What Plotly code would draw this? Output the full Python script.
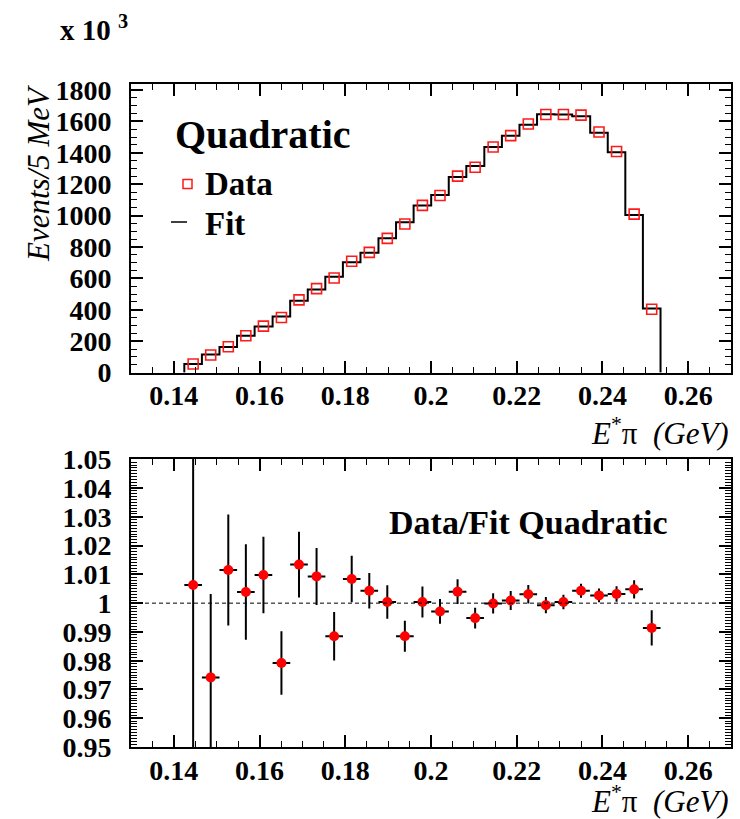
import plotly.graph_objects as go

# E*pi bin centres (GeV)
e_pi = [0.1445, 0.1486, 0.1527, 0.1568, 0.1609, 0.1651, 0.1692, 0.1733, 0.1774,
        0.1815, 0.1856, 0.1898, 0.1939, 0.1980, 0.2021, 0.2062, 0.2103, 0.2145,
        0.2186, 0.2227, 0.2268, 0.2309, 0.2350, 0.2392, 0.2433, 0.2474, 0.2515]

# events per bin (x 10^3)
data_counts = [55, 112, 165, 235, 296, 351, 463, 535, 603, 709, 766, 855, 946, 1065,
               1128, 1251, 1308, 1437, 1509, 1583, 1644, 1644, 1640, 1532, 1408, 1009, 404]

# quadratic fit per bin (x 10^3)
fit_counts = [55, 115, 163, 234, 293, 358, 457, 530, 610, 703, 763, 855, 957, 1065,
              1131, 1246, 1315, 1437, 1508, 1578, 1645, 1643, 1633, 1528, 1403, 1004, 408]

# data / fit ratio and its uncertainty
ratio = [1.0063, 0.9742, 1.0115, 1.0039, 1.0098, 0.9792, 1.0134, 1.0093, 0.9885,
         1.0084, 1.0043, 1.0004, 0.9885, 1.0004, 0.9971, 1.0040, 0.9948, 0.9999,
         1.0009, 1.0031, 0.9993, 1.0004, 1.0043, 1.0027, 1.0032, 1.0048, 0.9914]
ratio_err = [0.070, 0.029, 0.0193, 0.0166, 0.0133, 0.011, 0.0114, 0.0099, 0.0084,
             0.0081, 0.0062, 0.0058, 0.0054, 0.0054, 0.0043, 0.0043, 0.0036, 0.0035,
             0.0033, 0.0032, 0.0028, 0.0025, 0.0024, 0.0024, 0.0027, 0.0032, 0.0061]

x_ticks = [0.14, 0.16, 0.18, 0.20, 0.22, 0.24, 0.26]
x_tick_text = ["0.14", "0.16", "0.18", "0.2", "0.22", "0.24", "0.26"]

# bin edges from the centres
half_w = (e_pi[-1] - e_pi[0]) / (len(e_pi) - 1) / 2
edges = [c - half_w for c in e_pi] + [e_pi[-1] + half_w]

W, H = 740, 819
SERIF = "Liberation Serif"


def px_x(p):
    return p / W


def px_y(p):
    return 1 - p / H


fig = go.Figure()

# fit histogram as a step line
step_x = [edges[0]] + edges[:-1] + [edges[-1]]
step_y = [0] + fit_counts + [0]
fig.add_trace(go.Scatter(
    x=step_x, y=step_y, mode="lines", line=dict(color="black", width=2, shape="hv"),
    xaxis="x", yaxis="y", showlegend=False, hoverinfo="skip"))

# data points
fig.add_trace(go.Scatter(
    x=e_pi, y=data_counts, mode="markers",
    marker=dict(symbol="square-open", size=10, color="#ff1a1a", line=dict(width=1.6, color="#ff1a1a")),
    xaxis="x", yaxis="y", showlegend=False))

# ratio panel
fig.add_trace(go.Scatter(
    x=e_pi, y=ratio, mode="markers",
    marker=dict(symbol="circle", size=10, color="#ff0000"),
    error_y=dict(type="data", array=ratio_err, color="black", thickness=2, width=0),
    error_x=dict(type="constant", value=half_w, color="black", thickness=2, width=0),
    xaxis="x2", yaxis="y2", showlegend=False))

tickfont = dict(family=SERIF, size=28, color="black", weight="bold")
common = dict(ticks="inside", tickcolor="black", tickwidth=1.5, showline=True,
              linecolor="black", linewidth=2, mirror="ticks", showgrid=False,
              zeroline=False, tickfont=tickfont, automargin=False)

xdom = [px_x(131), px_x(731)]
xaxis_cfg = dict(domain=xdom, range=[0.13, 0.27], tickmode="array", tickvals=x_ticks,
                 ticktext=x_tick_text, ticklen=12, ticklabelstandoff=-3,
                 minor=dict(ticks="inside", ticklen=6, tickmode="linear", tick0=0.13,
                            dtick=0.005, tickcolor="black", tickwidth=1.2),
                 **common)

fig.update_layout(
    width=W, height=H, margin=dict(l=0, r=0, t=0, b=0, autoexpand=False),
    paper_bgcolor="white", plot_bgcolor="white",
    xaxis=dict(anchor="y", **xaxis_cfg),
    yaxis=dict(anchor="x", domain=[px_y(372.7), px_y(84.3)], range=[-0.5, 1836],
               tickmode="linear", tick0=0, dtick=200, ticklen=12, ticklabelstandoff=12,
               minor=dict(ticks="inside", ticklen=6, dtick=50, tickcolor="black", tickwidth=1.2),
               **common),
    xaxis2=dict(anchor="y2", **xaxis_cfg),
    yaxis2=dict(anchor="x2", domain=[px_y(747.3), px_y(459)], range=[0.9499, 1.0501],
                tickmode="linear", tick0=0.95, dtick=0.01, ticklen=12, ticklabelstandoff=12,
                minor=dict(ticks="inside", ticklen=6, dtick=0.001, tickcolor="black", tickwidth=1.2),
                **common),
)

# unity reference line on the ratio panel
fig.add_shape(type="line", xref="x2", yref="y2", x0=0.13, x1=0.27, y0=1, y1=1,
              line=dict(color="black", width=1, dash="4px,3px"))

# legend box contents
fig.add_shape(type="rect", xref="paper", yref="paper",
              x0=px_x(183), x1=px_x(192), y0=px_y(188.5), y1=px_y(179.5),
              line=dict(color="#ff1a1a", width=1.5))
fig.add_shape(type="line", xref="paper", yref="paper",
              x0=px_x(171), x1=px_x(187), y0=px_y(222), y1=px_y(222),
              line=dict(color="black", width=1.5))

ann = []


def label(text, x, y, size, xanchor="left", angle=0, italic=False):
    ann.append(dict(text=text, x=px_x(x), y=px_y(y), xref="paper", yref="paper",
                    xanchor=xanchor, yanchor="middle", showarrow=False, textangle=angle,
                    font=dict(family=SERIF, size=size, color="black",
                              style="italic" if italic else "normal")))


label("<b>Quadratic</b>", 173, 135, 40)
label("<b>Data</b>", 203, 184, 33)
label("<b>Fit</b>", 203, 224, 33)
label("<b>Data/Fit Quadratic</b>", 528, 522, 34, xanchor="center")
label("<b>x 10 <sup>3</sup></b>", 58, 28, 29)
label("Events/5 MeV", 38, 174, 31, xanchor="center", angle=-90, italic=True)
axis_title = "<i>E</i><sup>*</sup>π  <i>(GeV)</i>"
label(axis_title, 731, 431, 31, xanchor="right")
label(axis_title, 731, 799, 31, xanchor="right")

fig.update_layout(annotations=ann)

fig.write_html("out.html")
